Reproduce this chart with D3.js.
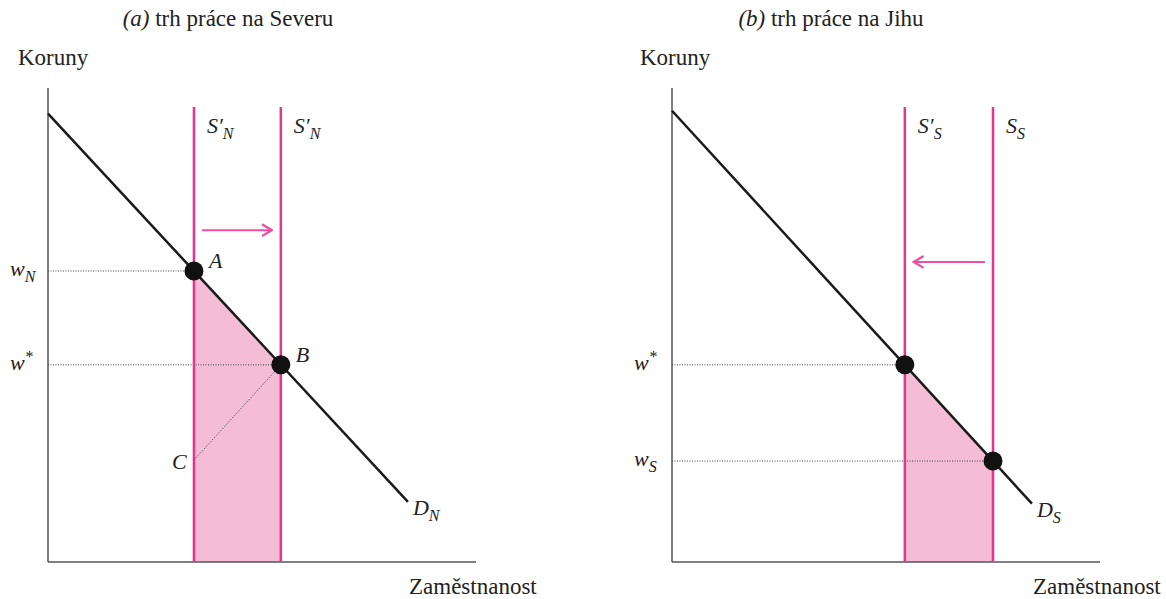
<!DOCTYPE html>
<html>
  <head>
    <meta charset="utf-8">
    <title>Trh práce – Sever a Jih</title>
    <script src="https://d3js.org/d3.v7.min.js"></script>
    <style>
      body { margin: 0; background: #fff; }
      svg text { font-family: "Liberation Serif", "DejaVu Serif", serif; fill: #222; }
      .title { font-size: 23px; }
      .axis-label { font-size: 23px; }
      .lbl { font-size: 22px; font-style: italic; }
      .sub { font-size: 16px; }
    </style>
  </head>
  <body>
    <svg width="1166" height="599"></svg>
    <script>
      // values in chart units (quantity 0..10, wage 0..10)
      const titleTags = ["(a)", "(b)"];
      const titleTexts = ["trh práce na Severu", "trh práce na Jihu"];
      const demandStart = [[0, 9.46], [0, 9.52]];
      const demandEnd = [[8.41, 1.27], [8.41, 1.23]];
      const demandNames = ["N", "S"];
      const supplyQty = [[3.41, 5.44], [5.44, 7.5]];
      const supplyNames = [[["S′", "N"], ["S′", "N"]], [["S′", "S"], ["S", "S"]]];
      const supplyTop = 9.6;
      const wageLevels = [[6.14, 4.16], [4.16, 2.13]];
      const wageEnds = [[3.41, 5.44], [5.44, 7.5]];
      const wageNames = [[["w", "N"], ["w", "*"]], [["w", "*"], ["w", "S"]]];
      const dotPoints = [[[3.41, 6.14], [5.44, 4.16]], [[5.44, 4.16], [7.5, 2.13]]];
      const dotNames = [["A", "B"], ["", ""]];
      const pointC = [3.41, 2.15];
      const arrows = [[3.6, 5.23, 7.0], [7.31, 5.65, 6.33]];

      const panelX = [[48, 476], [672, 1100]];
      const titleCenters = [228, 831];
      const pink = "#e9338f";
      const svg = d3.select("svg");

      svg.append("defs").append("marker")
          .attr("id", "head")
          .attr("viewBox", "0 0 10 10")
          .attr("refX", 9).attr("refY", 5)
          .attr("markerWidth", 14).attr("markerHeight", 14)
          .attr("markerUnits", "userSpaceOnUse")
          .attr("orient", "auto")
        .append("path")
          .attr("d", "M2,0.8 L9,5 L2,9.2")
          .attr("fill", "none")
          .attr("stroke", "#ee4fa0")
          .attr("stroke-width", 1.6);

      function subText(g, x, y, main, sub, cls, subDy, superscript) {
        const t = g.append("text").attr("class", cls).attr("x", x).attr("y", y);
        t.append("tspan").text(main);
        t.append("tspan")
          .attr("class", "sub")
          .attr("dy", superscript ? -8 : subDy)
          .text(sub);
        return t;
      }

      function renderPanel(p) {
        const x = d3.scaleLinear().domain([0, 10]).range(panelX[p]);
        const y = d3.scaleLinear().domain([0, 10]).range([562, 88]);
        const g = svg.append("g");
        const d0 = demandStart[p], d1 = demandEnd[p];
        const slope = (d1[1] - d0[1]) / (d1[0] - d0[0]);
        const demand = q => d0[1] + slope * (q - d0[0]);

        // shaded area between the two supply lines, under the demand curve
        const area = d3.area().x(d => x(d)).y0(y(0)).y1(d => y(demand(d)));
        g.append("path")
          .attr("d", area(supplyQty[p]))
          .attr("fill", "#f4bcd5");

        // title
        const title = g.append("text").attr("class", "title")
          .attr("x", titleCenters[p]).attr("y", 26).attr("text-anchor", "middle");
        title.append("tspan").attr("font-style", "italic").text(titleTags[p]);
        title.append("tspan").text(" " + titleTexts[p]);

        // axes
        g.append("line")
          .attr("x1", x(0)).attr("x2", x(0)).attr("y1", y(10)).attr("y2", y(0))
          .attr("stroke", "#555").attr("stroke-width", 1.5);
        g.append("line")
          .attr("x1", x(0)).attr("x2", x(10)).attr("y1", y(0)).attr("y2", y(0))
          .attr("stroke", "#555").attr("stroke-width", 1.5);
        g.append("text").attr("class", "axis-label")
          .attr("x", x(0) - (p === 0 ? 30 : 32)).attr("y", 65).text("Koruny");
        g.append("text").attr("class", "axis-label")
          .attr("x", x(10) - 67).attr("y", 594).text("Zaměstnanost");

        // dotted wage lines
        wageLevels[p].forEach((w, i) => {
          g.append("line")
            .attr("x1", x(0)).attr("x2", x(wageEnds[p][i]))
            .attr("y1", y(w)).attr("y2", y(w))
            .attr("stroke", "#444").attr("stroke-width", 1)
            .attr("stroke-dasharray", "1,1.5");
          const nm = wageNames[p][i];
          subText(g, x(0) - 38, y(w) + 5, nm[0], nm[1], "lbl", 6, nm[1] === "*");
        });

        // supply lines
        supplyQty[p].forEach((q, i) => {
          g.append("line")
            .attr("x1", x(q)).attr("x2", x(q)).attr("y1", y(supplyTop)).attr("y2", y(0))
            .attr("stroke", pink).attr("stroke-width", 2.5);
          const nm = supplyNames[p][i];
          subText(g, x(q) + 13, 133, nm[0], nm[1], "lbl", 6, false);
        });

        // dotted line from C to B (north only)
        if (p === 0) {
          g.append("line")
            .attr("x1", x(pointC[0])).attr("y1", y(pointC[1]))
            .attr("x2", x(dotPoints[p][1][0])).attr("y2", y(dotPoints[p][1][1]))
            .attr("stroke", "#444").attr("stroke-width", 0.8)
            .attr("stroke-dasharray", "1.5,1.5");
          g.append("text").attr("class", "lbl")
            .attr("x", x(pointC[0]) - 22).attr("y", y(pointC[1]) + 9).text("C");
        }

        // demand line
        g.append("line")
          .attr("x1", x(d0[0])).attr("y1", y(d0[1]))
          .attr("x2", x(d1[0])).attr("y2", y(d1[1]))
          .attr("stroke", "#1a1a1a").attr("stroke-width", 2.5);
        subText(g, x(d1[0]) + 5, y(d1[1]) + 13, "D", demandNames[p], "lbl", 6, false);

        // arrow showing the shift
        const a = arrows[p];
        g.append("line")
          .attr("x1", x(a[0])).attr("x2", x(a[1])).attr("y1", y(a[2])).attr("y2", y(a[2]))
          .attr("stroke", "#ee4fa0").attr("stroke-width", 2)
          .attr("marker-end", "url(#head)");

        // equilibrium dots
        dotPoints[p].forEach((pt, i) => {
          g.append("circle")
            .attr("cx", x(pt[0])).attr("cy", y(pt[1])).attr("r", 9.5)
            .attr("fill", "#111");
          if (dotNames[p][i]) {
            g.append("text").attr("class", "lbl")
              .attr("x", x(pt[0]) + 15).attr("y", y(pt[1]) - 3).text(dotNames[p][i]);
          }
        });
      }

      renderPanel(0);
      renderPanel(1);
    </script>
  </body>
</html>
